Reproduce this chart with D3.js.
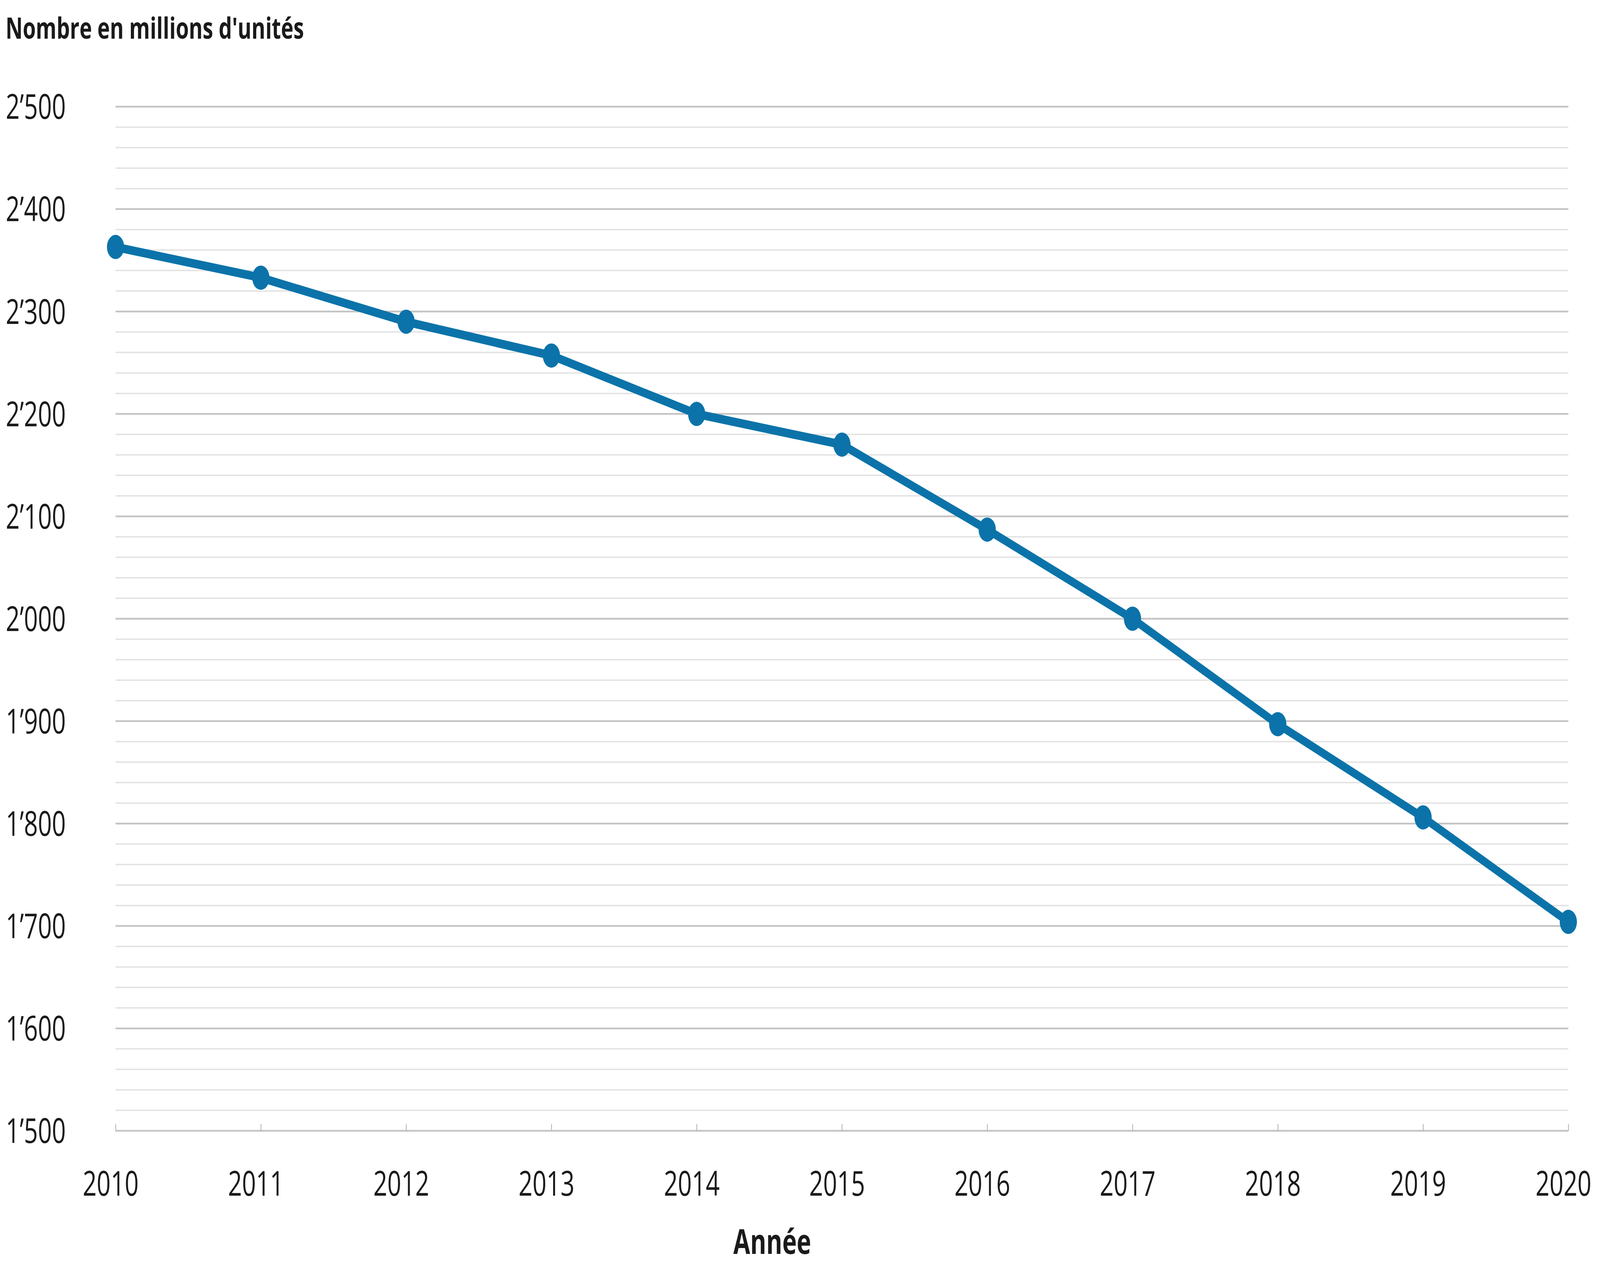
<!DOCTYPE html>
<html>
<head>
<meta charset="utf-8">
<script src="https://cdn.jsdelivr.net/npm/d3@7"></script>
<style>
  html, body { margin: 0; padding: 0; background: #fff; width: 100%; height: 100%; overflow: hidden; }
  svg { display: block; width: 100vw; height: 100vh; }
  text { font-family: "Open Sans", "Noto Sans", sans-serif; }
</style>
</head>
<body>
<svg id="chart" viewBox="0 0 5760 3240" preserveAspectRatio="none"></svg>
<script>
const years = [2010, 2011, 2012, 2013, 2014, 2015, 2016, 2017, 2018, 2019, 2020];
const values = [2363, 2333, 2290, 2257, 2200, 2170, 2087, 2000, 1897, 1806, 1704];
const yTicks = [1500, 1600, 1700, 1800, 1900, 2000, 2100, 2200, 2300, 2400, 2500];
const yMinorTicks = d3.range(1500, 2501, 20);
const yTitle = "Nombre en millions d'unités";
const xTitle = "Année";

const svg = d3.select("#chart");
const W = 5760, H = 3240;
svg.append("rect").attr("width", W).attr("height", H).attr("fill", "#fff");

const x = d3.scaleLinear().domain([2010, 2020]).range([416, 5646]);
const y = d3.scaleLinear().domain([1500, 2500]).range([2894, 273]);

const fmt = v => d3.format(",")(v).replace(/,/g, "\u2019");

// minor grid
svg.append("g").selectAll("line")
  .data(yMinorTicks.filter(v => v % 100 !== 0))
  .join("line")
  .attr("x1", x(2010)).attr("x2", x(2020))
  .attr("y1", d => y(d)).attr("y2", d => y(d))
  .attr("stroke", "#e2e2e2").attr("stroke-width", 3.5);

// major grid
svg.append("g").selectAll("line")
  .data(yTicks)
  .join("line")
  .attr("x1", x(2010)).attr("x2", x(2020))
  .attr("y1", d => y(d)).attr("y2", d => y(d))
  .attr("stroke", "#c4c4c4").attr("stroke-width", 4.5);

// y axis labels
const yAxis = d3.axisLeft(y).tickValues(yTicks).tickFormat(fmt).tickSize(0).tickPadding(0);
const gy = svg.append("g").attr("transform", "translate(237,0)").call(yAxis);
gy.select(".domain").remove();
gy.selectAll("text")
  .attr("font-family", "'Open Sans', sans-serif")
  .attr("font-size", 88)
  .attr("fill", "#1a1a1a")
  .attr("dy", "0.35em");

// x axis
const xAxis = d3.axisBottom(x).tickValues(years).tickFormat(d3.format("d")).tickSize(0).tickPadding(0);
const gx = svg.append("g").attr("transform", `translate(0,${y(1500)})`).call(xAxis);
gx.select(".domain").remove();
gx.selectAll(".tick line").remove();
gx.selectAll(".tick").append("line")
  .attr("y1", 0).attr("y2", -17)
  .attr("stroke", "#b5b5b5").attr("stroke-width", 3);
gx.selectAll("text")
  .attr("font-family", "'Open Sans', sans-serif")
  .attr("font-size", 88)
  .attr("fill", "#1a1a1a")
  .attr("x", -18)
  .attr("y", 166)
  .attr("dy", 0);

// line
const line = d3.line().x((d, i) => x(years[i])).y(d => y(d));
svg.append("path")
  .datum(values)
  .attr("d", line)
  .attr("fill", "none")
  .attr("stroke", "#0b73a9")
  .attr("stroke-width", 22)
  .attr("stroke-linejoin", "round");

svg.append("g").selectAll("circle")
  .data(values)
  .join("circle")
  .attr("cx", (d, i) => x(years[i]))
  .attr("cy", d => y(d))
  .attr("r", 31)
  .attr("fill", "#0b73a9");

// titles
svg.append("text")
  .attr("x", 20).attr("y", 99)
  .attr("font-size", 76).attr("font-weight", 700)
  .attr("fill", "#1a1a1a")
  .text(yTitle);

svg.append("text")
  .attr("x", 2780).attr("y", 3209)
  .attr("text-anchor", "middle")
  .attr("font-size", 88).attr("font-weight", 700)
  .attr("fill", "#1a1a1a")
  .text(xTitle);
</script>
</body>
</html>
